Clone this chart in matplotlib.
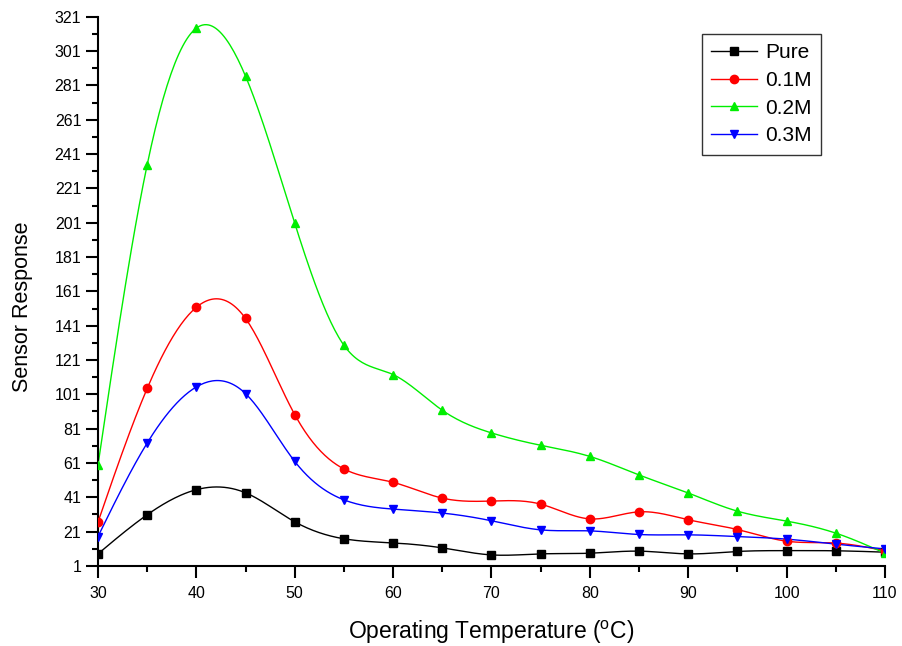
import numpy as np
import matplotlib
matplotlib.use("Agg")
import matplotlib.pyplot as plt
from matplotlib.ticker import MultipleLocator

plt.rcParams["font.family"] = ["Liberation Sans", "DejaVu Sans"]

# Data
temperature = [30, 35, 40, 45, 50, 55, 60, 65, 70, 75, 80, 85, 90, 95, 100, 105, 110]
pure = [8.0, 30.8, 45.4, 43.6, 26.7, 16.8, 14.4, 11.5, 7.4, 8.0, 8.4, 9.6, 8.0, 9.4, 9.9, 9.8, 9.0]
m01 = [26.5, 104.4, 151.7, 145.2, 89.2, 57.5, 49.7, 40.5, 38.8, 37.0, 28.4, 32.5, 27.9, 22.2, 15.4, 14.3, 9.8]
m02 = [59.7, 234.7, 314.4, 286.4, 200.7, 129.6, 112.5, 91.7, 78.5, 71.3, 64.8, 54.0, 43.5, 32.9, 27.1, 20.1, 8.4]
m03 = [18.1, 72.6, 105.3, 101.4, 61.9, 39.5, 34.1, 31.8, 27.3, 22.0, 21.4, 19.3, 19.1, 18.1, 16.6, 13.7, 10.9]

labels = ["Pure", "0.1M", "0.2M", "0.3M"]
colors = ["black", "red", "#00ee00", "blue"]
markers = ["s", "o", "^", "v"]


def spline(x, y, n=400):
    # natural cubic spline through the points, for drawing a smooth curve
    x = np.asarray(x, float)
    y = np.asarray(y, float)
    k = len(x)
    h = np.diff(x)
    A = np.zeros((k, k))
    b = np.zeros(k)
    A[0, 0] = A[-1, -1] = 1
    for i in range(1, k - 1):
        A[i, i - 1] = h[i - 1]
        A[i, i] = 2 * (h[i - 1] + h[i])
        A[i, i + 1] = h[i]
        b[i] = 6 * ((y[i + 1] - y[i]) / h[i] - (y[i] - y[i - 1]) / h[i - 1])
    M = np.linalg.solve(A, b)
    xs = np.linspace(x[0], x[-1], n)
    idx = np.clip(np.searchsorted(x, xs) - 1, 0, k - 2)
    x0, x1 = x[idx], x[idx + 1]
    hh = x1 - x0
    t0, t1 = x1 - xs, xs - x0
    ys = (M[idx] * t0**3 + M[idx + 1] * t1**3) / (6 * hh) \
        + (y[idx] / hh - M[idx] * hh / 6) * t0 \
        + (y[idx + 1] / hh - M[idx + 1] * hh / 6) * t1
    return xs, ys


fig = plt.figure(figsize=(9.03, 6.46), dpi=100)
ax = fig.add_axes([0.1085, 0.124, 0.8715, 0.85])

for vals, lab, c, m in zip([pure, m01, m02, m03], labels, colors, markers):
    xs, ys = spline(temperature, vals)
    ax.plot(xs, ys, color=c, lw=1.0, zorder=2)
    ax.plot(temperature, vals, linestyle="none", marker=m, color=c,
            markersize=6, zorder=3)
    ax.plot([], [], color=c, lw=1.0, marker=m, markersize=6, label=lab)

ax.set_xlim(30, 110)
ax.set_ylim(1, 321)
ax.xaxis.set_major_locator(MultipleLocator(10))
ax.xaxis.set_minor_locator(MultipleLocator(5))
ax.set_yticks(np.arange(1, 322, 20))
ax.set_yticks(np.arange(11, 322, 20), minor=True)

ax.spines["top"].set_visible(False)
ax.spines["right"].set_visible(False)
ax.spines["left"].set_linewidth(1.5)
ax.spines["bottom"].set_linewidth(1.5)
ax.tick_params(which="major", direction="out", length=8.5, width=1.5, labelsize=11.5)
ax.tick_params(which="minor", direction="out", length=4.5, width=1.5)
ax.tick_params(axis="x", which="major", pad=6)
ax.tick_params(axis="y", which="major", pad=3.5)

ax.set_xlabel(r"Operating Temperature ($\mathregular{^{o}}$C)", fontsize=16.5, labelpad=13)
ax.set_ylabel("Sensor Response", fontsize=15.5)
ax.yaxis.set_label_coords(-0.083, 0.472)

leg = ax.legend(loc="upper left", bbox_to_anchor=(0.767, 0.969), fontsize=15,
                frameon=True, fancybox=False, edgecolor="black",
                handlelength=2.2, handletextpad=0.4, labelspacing=0.42,
                borderpad=0.45, borderaxespad=0)
leg.get_frame().set_linewidth(1.0)

fig.savefig("out.png", dpi=100)
